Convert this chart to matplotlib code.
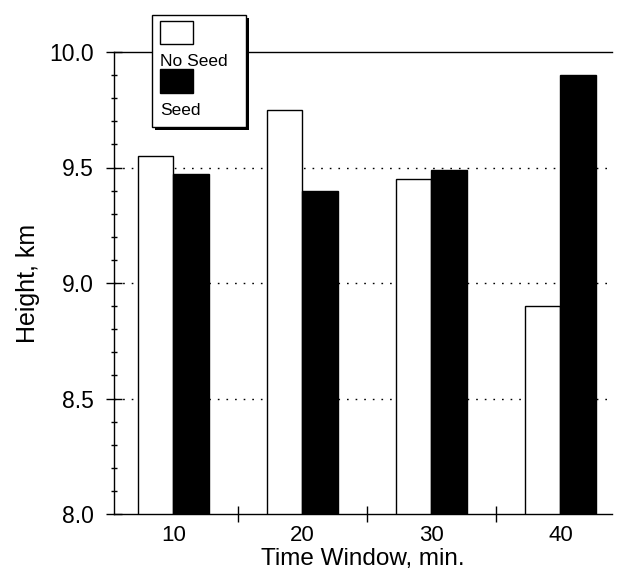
import matplotlib
matplotlib.use("Agg")
import matplotlib.pyplot as plt
from matplotlib.patches import Rectangle
from matplotlib.ticker import MultipleLocator, FixedLocator, FormatStrFormatter

plt.rcParams['font.family'] = ['Liberation Sans', 'DejaVu Sans']

# Data
windows = [10, 20, 30, 40]
no_seed = [9.55, 9.75, 9.45, 8.90]
seed = [9.47, 9.40, 9.49, 9.90]
series_labels = ["No Seed", "Seed"]

fig = plt.figure(figsize=(6.18, 5.78), dpi=100)
ax = fig.add_axes([114 / 618, 64 / 578, (612 - 114) / 618, (514 - 52) / 578])

w = 2.75
ax.bar([x - w / 2 for x in windows], [v - 8.0 for v in no_seed], width=w, bottom=8.0,
       color="white", edgecolor="black", linewidth=1.0, zorder=3)
ax.bar([x + w / 2 for x in windows], [v - 8.0 for v in seed], width=w, bottom=8.0,
       color="black", edgecolor="black", linewidth=1.0, zorder=3)

ax.set_xlim(5.4, 44.0)
ax.set_ylim(8.0, 10.0)

# y axis ticks
ax.yaxis.set_major_locator(MultipleLocator(0.5))
ax.yaxis.set_minor_locator(MultipleLocator(0.1))
ax.yaxis.set_major_formatter(FormatStrFormatter("%.1f"))
ax.tick_params(axis="y", which="major", direction="inout", length=11, width=1.0,
               labelsize=16.5, pad=9)
ax.tick_params(axis="y", which="minor", direction="inout", length=5, width=1.0)

# x axis: labels at windows, marks between them
ax.set_xticks(windows)
ax.set_xticklabels([str(x) for x in windows])
ax.xaxis.set_minor_locator(FixedLocator([15, 25, 35]))
ax.tick_params(axis="x", which="major", length=0, labelsize=16, pad=8)
ax.tick_params(axis="x", which="minor", direction="inout", length=11, width=1.0)

for y in [8.5, 9.0, 9.5]:
    ax.axhline(y, color="black", linewidth=1.0, linestyle=(0, (1.2, 5)), zorder=1)

ax.spines["right"].set_visible(False)
for s in ["left", "bottom", "top"]:
    ax.spines[s].set_linewidth(1.0)

ax.set_xlabel("Time Window, min.", fontsize=17.5, labelpad=1)
ax.set_ylabel("Height, km", fontsize=18, labelpad=7)

# Legend box drawn in figure pixels (top-left origin)
W, H = 618, 578
def fx(px):
    return px / W
def fy(py):
    return 1 - py / H

shadow = Rectangle((fx(155), fy(130)), fx(246) - fx(152), fy(15) - fy(127),
                   transform=fig.transFigure, facecolor="black", edgecolor="none",
                   zorder=10)
box = Rectangle((fx(152), fy(127)), fx(246) - fx(152), fy(15) - fy(127),
                transform=fig.transFigure, facecolor="white", edgecolor="black",
                linewidth=1.0, zorder=11)
fig.patches.extend([shadow, box])
p1 = Rectangle((fx(160), fy(44)), fx(193) - fx(160), fy(21) - fy(44),
               transform=fig.transFigure, facecolor="white", edgecolor="black",
               linewidth=1.0, zorder=12)
p2 = Rectangle((fx(160), fy(93)), fx(193) - fx(160), fy(69) - fy(93),
               transform=fig.transFigure, facecolor="black", edgecolor="black",
               linewidth=1.0, zorder=12)
fig.patches.extend([p1, p2])
fig.text(fx(160), fy(66), series_labels[0], fontsize=12.5, ha="left", va="baseline", zorder=13)
fig.text(fx(160), fy(115), series_labels[1], fontsize=12.5, ha="left", va="baseline", zorder=13)

fig.savefig("out.png", dpi=100)
